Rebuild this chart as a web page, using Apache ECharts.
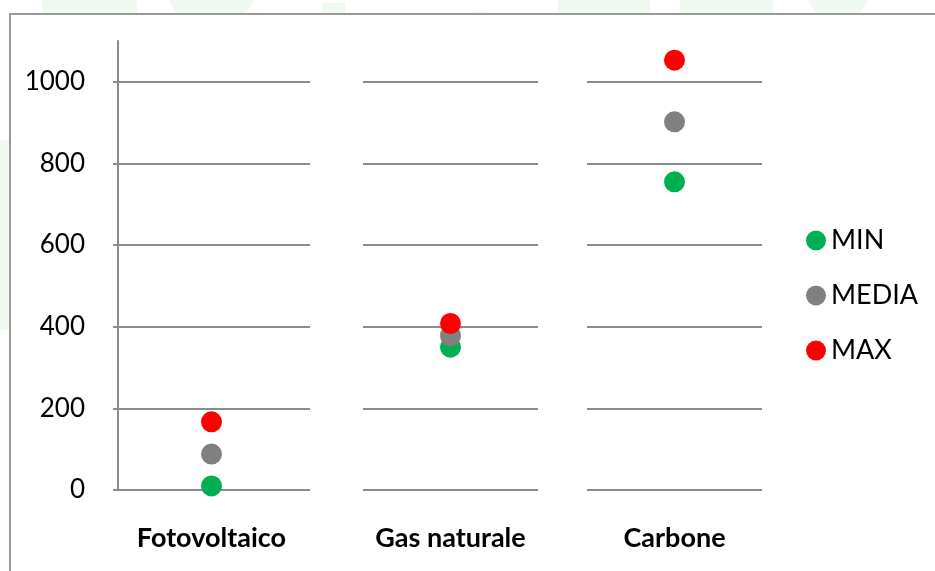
<!DOCTYPE html>
<html>
<head>
<meta charset="utf-8">
<script src="https://cdn.jsdelivr.net/npm/echarts@6/dist/echarts.min.js"></script>
<style>
  html, body { margin: 0; padding: 0; background: #fff; }
  #chart { width: 935px; height: 571px; }
</style>
</head>
<body>
<div id="chart"></div>
<script>
// ---- data ----
const categories = ['Fotovoltaico', 'Gas naturale', 'Carbone'];
const minValues = [10, 350, 755];
const mediaValues = [88, 378, 902];
const maxValues = [167, 408, 1053];
const yTicks = [0, 200, 400, 600, 800, 1000];
const seriesNames = ['MIN', 'MEDIA', 'MAX'];
const seriesColors = ['#00B050', '#808080', '#FF0000'];

// ---- layout ----
const gridRects = [
  { left: 113, width: 197 },
  { left: 363, width: 175 },
  { left: 587, width: 175 }
];
const gridTop = 41, gridBottom = 81;
const lineColor = '#8c8c8c';
const fontFam = 'Lato, "Open Sans", sans-serif';

const valueSets = [minValues, mediaValues, maxValues];

const grid = gridRects.map(r => ({ left: r.left, width: r.width, top: gridTop, bottom: gridBottom }));

const xAxis = categories.map((c, i) => ({
  type: 'category',
  gridIndex: i,
  data: [c],
  axisLine: { show: false },
  axisTick: { show: false },
  splitLine: { show: false },
  axisLabel: {
    margin: 35,
    fontFamily: fontFam,
    fontWeight: 'bold',
    fontSize: 27,
    color: '#000'
  }
}));

const yAxis = categories.map((c, i) => ({
  type: 'value',
  gridIndex: i,
  min: 0,
  max: 1100,
  interval: 200,
  show: i === 0,
  position: 'left',
  offset: -5,
  axisLine: { show: i === 0, lineStyle: { color: lineColor, width: 2 } },
  axisTick: { show: false },
  splitLine: { show: false },
  axisLabel: {
    show: i === 0,
    showMaxLabel: false,
    margin: 33,
    fontFamily: fontFam,
    fontSize: 26,
    color: '#000',
    formatter: v => String(v)
  }
}));

const series = [];
categories.forEach((c, gi) => {
  seriesNames.forEach((name, si) => {
    const s = {
      name: name,
      type: 'scatter',
      xAxisIndex: gi,
      yAxisIndex: gi,
      symbol: 'circle',
      symbolSize: 21,
      itemStyle: { color: seriesColors[si], opacity: 1 },
      data: [[c, valueSets[si][gi]]],
      z: 3 + si,
      animation: false
    };
    if (si === 0) {
      s.markLine = {
        z: 1,
        silent: true,
        symbol: ['none', 'none'],
        label: { show: false },
        lineStyle: { color: lineColor, width: 2, type: 'solid' },
        emphasis: { disabled: true },
        animation: false,
        data: yTicks.map(v => ({ yAxis: v }))
      };
    }
    series.push(s);
  });
});

const faint = '#eff9ef';
const option = {
  backgroundColor: '#fff',
  animation: false,
  grid: grid,
  xAxis: xAxis,
  yAxis: yAxis,
  legend: {
    data: seriesNames,
    orient: 'vertical',
    left: 801,
    top: 222,
    itemWidth: 20,
    itemHeight: 20,
    itemGap: 28,
    icon: 'circle',
    textStyle: { fontFamily: fontFam, fontSize: 27, color: '#000', lineHeight: 20 }
  },
  graphic: [
    { type: 'rect', shape: { x: 42, y: 0, width: 95, height: 13 }, style: { fill: faint }, z: -10 },
    { type: 'polygon', shape: { points: [[169, 0], [254, 0], [246, 13], [176, 13]] }, style: { fill: faint }, z: -10 },
    { type: 'rect', shape: { x: 322, y: 3, width: 23, height: 10 }, style: { fill: faint }, z: -10 },
    { type: 'circle', shape: { cx: 480, cy: 40, r: 28 }, style: { fill: faint }, z: -10 },
    { type: 'rect', shape: { x: 558, y: 0, width: 92, height: 13 }, style: { fill: faint }, z: -10 },
    { type: 'rect', shape: { x: 680, y: 0, width: 93, height: 13 }, style: { fill: faint }, z: -10 },
    { type: 'polygon', shape: { points: [[808, 0], [868, 0], [860, 13], [816, 13]] }, style: { fill: faint }, z: -10 },
    { type: 'rect', shape: { x: 0, y: 140, width: 9, height: 190 }, style: { fill: faint }, z: -10 },
    { type: 'rect', shape: { x: 11, y: 15, width: 930, height: 560 }, style: { fill: '#fff' }, z: -9 },
    { type: 'rect', shape: { x: 10, y: 14, width: 940, height: 570 }, style: { fill: 'none', stroke: '#9a9a9a', lineWidth: 2 }, z: -8 }
  ],
  series: series
};

const chart = echarts.init(document.getElementById('chart'), null, { renderer: 'canvas' });
chart.setOption(option);
</script>
</body>
</html>
